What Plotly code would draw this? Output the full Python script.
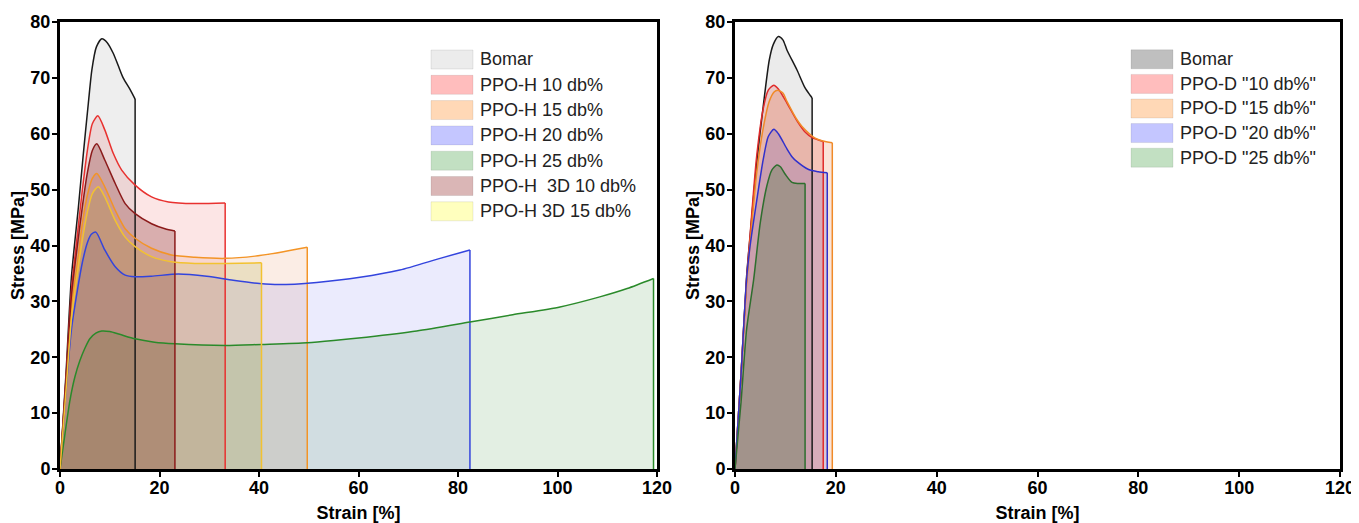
import plotly.graph_objects as go

W, H = 1359, 523
OFF = 8                    # page body margin of the HTML page
FW, FH = W - OFF, H - OFF  # figure size so that the picture fits the window

# ---------------- Left panel: PPO-H (strain [%], stress [MPa]) ----------------
h_bomar_strain = [0, 1.2, 2.3, 3.7, 4.7, 5.7, 6.4, 7.3, 8.4, 9.5, 10.7, 11.7, 12.7, 14.1, 15.1]
h_bomar_stress = [0, 17, 34.4, 46.9, 56.5, 65.5, 71.4, 75.5, 77.0, 76.3, 74.4, 72.2, 70.0, 67.9, 66.2]

h10_strain = [0, 1.2, 2.3, 3.5, 4.5, 5.5, 6.5, 7.6, 9.0, 10.7, 12.4, 15.1, 18.4, 21.8, 27.1, 33.2]
h10_stress = [0, 16, 32, 42, 50, 57, 61.8, 63.2, 60.7, 56.5, 53.5, 50.8, 48.7, 47.8, 47.5, 47.6]

h15_strain = [0, 1.2, 2.3, 3.5, 4.5, 5.5, 6.5, 7.4, 9.0, 11.1, 13.1, 15.1, 18.4, 22.4, 27.1, 33.2, 39.2, 44.9, 49.7]
h15_stress = [0, 15, 29, 37, 44, 49, 52, 52.9, 50.5, 46.3, 43.0, 41.3, 39.5, 38.3, 37.9, 37.7, 38.1, 38.9, 39.7]

h20_strain = [0, 1.2, 2.3, 3.5, 4.5, 5.5, 6.3, 7.2, 9.0, 11.1, 13.1, 15.1, 18.4, 23.8, 29.5, 34.8, 40.1, 44.0, 51.6, 60.3, 68.3, 76.4, 82.4]
h20_stress = [0, 14, 25, 32, 37, 40.5, 42, 42.4, 39.2, 36.2, 34.7, 34.4, 34.5, 34.9, 34.5, 33.8, 33.2, 33.0, 33.4, 34.3, 35.6, 37.7, 39.2]

h25_strain = [0, 1.0, 2.0, 3.0, 4.0, 5.0, 6.0, 7.2, 8.4, 10.0, 12.0, 15.1, 19.0, 23.1, 33.2, 40.5, 49.7, 55.0, 61.6, 71.7, 82.4, 91.0, 100.5, 108.5, 114.0, 119.3]
h25_stress = [0, 6.3, 12.3, 16.5, 19.4, 21.6, 23.3, 24.3, 24.7, 24.6, 24.1, 23.3, 22.7, 22.4, 22.1, 22.3, 22.6, 23.0, 23.6, 24.7, 26.3, 27.6, 29.0, 30.8, 32.3, 34.1]

h3d10_strain = [0, 1.2, 2.3, 3.5, 4.5, 5.5, 6.5, 7.4, 9.0, 11.1, 13.1, 15.1, 18.4, 21.1, 23.1]
h3d10_stress = [0, 16, 31, 40, 47, 53, 57, 58.2, 55.3, 51.1, 47.5, 45.7, 43.9, 43.0, 42.6]

h3d15_strain = [0, 1.2, 2.3, 3.5, 4.5, 5.5, 6.5, 7.7, 9.0, 11.1, 13.1, 15.1, 18.4, 22.4, 27.1, 33.2, 40.5]
h3d15_stress = [0, 14, 27, 35, 41, 46, 49.3, 50.5, 48.7, 44.5, 41.5, 39.8, 38.0, 37.1, 36.8, 36.8, 36.9]

left_names = ["Bomar", "PPO-H 10 db%", "PPO-H 15 db%", "PPO-H 20 db%",
              "PPO-H 25 db%", "PPO-H  3D 10 db%", "PPO-H 3D 15 db%"]

# ---------------- Right panel: PPO-D ----------------
d_bomar_strain = [0, 1.2, 2.3, 3.0, 4.3, 5.6, 6.8, 7.6, 8.6, 9.5, 10.3, 12.3, 13.9, 14.9, 15.3]
d_bomar_stress = [0, 17, 34.5, 41.7, 54.8, 64.9, 73.2, 76.0, 77.4, 76.8, 75.0, 71.4, 68.2, 66.9, 66.4]

d10_strain = [0, 1.2, 2.3, 3.0, 4.3, 5.6, 6.6, 7.7, 8.6, 10.3, 12.3, 13.9, 15.3, 17.5]
d10_stress = [0, 17, 34, 42, 56, 64.5, 67.8, 68.7, 68.0, 65.5, 62.3, 60.3, 59.3, 58.6]

d15_strain = [0, 1.2, 2.3, 3.0, 4.3, 5.6, 6.8, 7.8, 8.4, 9.5, 10.3, 12.3, 13.3, 15.9, 17.4, 19.3]
d15_stress = [0, 17, 33, 40.5, 53, 61, 65.8, 67.5, 67.8, 67.3, 65.8, 62.5, 61.3, 59.2, 58.7, 58.4]

d20_strain = [0, 1.2, 2.3, 3.0, 4.3, 5.6, 6.6, 7.7, 8.6, 10.3, 11.3, 12.3, 14.6, 16.5, 18.3]
d20_stress = [0, 17, 34, 40, 48, 55.4, 59.5, 60.8, 60.0, 57.3, 55.9, 55.0, 53.6, 53.2, 53.0]

d25_strain = [0, 1.2, 2.3, 3.7, 5.0, 6.3, 7.3, 8.3, 9.0, 10.0, 11.3, 12.5, 13.9]
d25_stress = [0, 12, 25, 33.9, 44, 50.6, 53.5, 54.4, 54.1, 52.7, 51.3, 51.1, 51.1]

right_names = ["Bomar", 'PPO-D "10 db%"', 'PPO-D "15 db%"', 'PPO-D "20 db%"', 'PPO-D "25 db%"']

# ---------------- styles ----------------
left_series = [
    (h_bomar_strain, h_bomar_stress, "#1a1a1a", "rgba(90,90,90,0.10)", "#ececec"),
    (h10_strain, h10_stress, "#e8312f", "rgba(230,0,0,0.10)", "#ffbdbd"),
    (h15_strain, h15_stress, "#f39426", "rgba(220,110,40,0.12)", "#ffd8b6"),
    (h20_strain, h20_stress, "#3344dd", "rgba(0,0,230,0.08)", "#c4c6ff"),
    (h25_strain, h25_stress, "#2a8a2a", "rgba(0,110,0,0.11)", "#c2e0c2"),
    (h3d10_strain, h3d10_stress, "#8b1a1a", "rgba(110,0,0,0.24)", "#dab6b6"),
    (h3d15_strain, h3d15_stress, "#f2c230", "rgba(150,150,0,0.15)", "#ffffbe"),
]
right_series = [
    (d_bomar_strain, d_bomar_stress, "#1a1a1a", "rgba(90,90,90,0.12)", "#bfbfbf"),
    (d10_strain, d10_stress, "#e02a2a", "rgba(230,0,0,0.15)", "#ffbdbd"),
    (d15_strain, d15_stress, "#f08a28", "rgba(230,100,40,0.18)", "#ffd8b6"),
    (d20_strain, d20_stress, "#3030cc", "rgba(0,0,200,0.12)", "#c4c6ff"),
    (d25_strain, d25_stress, "#2e6e2e", "rgba(0,100,0,0.20)", "#c2e0c2"),
]

FONT = "Liberation Sans, Arial, sans-serif"
fig = go.Figure()


def add_panel(series, xa, ya):
    # fills first
    for sx, sy, lc, fc, _ in series:
        fig.add_trace(go.Scatter(x=sx, y=sy, xaxis=xa, yaxis=ya, mode="lines",
                                 line=dict(width=0, shape="spline", smoothing=0.7),
                                 fill="tozeroy", fillcolor=fc, showlegend=False,
                                 hoverinfo="skip"))
    # then curves and break-drop lines
    for sx, sy, lc, fc, _ in series:
        fig.add_trace(go.Scatter(x=sx, y=sy, xaxis=xa, yaxis=ya, mode="lines",
                                 line=dict(width=1.5, color=lc, shape="spline", smoothing=0.7),
                                 showlegend=False))
        fig.add_trace(go.Scatter(x=[sx[-1], sx[-1]], y=[sy[-1], 0], xaxis=xa, yaxis=ya,
                                 mode="lines", line=dict(width=1.5, color=lc),
                                 showlegend=False, hoverinfo="skip"))


add_panel(left_series, "x", "y")
add_panel(right_series, "x2", "y2")

# ---------------- manual legends (large swatches) ----------------
shapes, annotations = [], []


def px2x(px):
    return (px - OFF) / FW


def px2y(py):
    return 1 - (py - OFF) / FH


def add_legend(names, series, sw_x0, sw_x1, y_first, dy, text_x):
    for i, (name, s) in enumerate(zip(names, series)):
        yc = y_first + dy * i
        shapes.append(dict(type="rect", xref="paper", yref="paper",
                           x0=px2x(sw_x0), x1=px2x(sw_x1),
                           y0=px2y(yc + 9.5), y1=px2y(yc - 9.5),
                           fillcolor=s[4], line=dict(color="rgba(0,0,0,0.08)", width=1)))
        annotations.append(dict(xref="paper", yref="paper", x=px2x(text_x), y=px2y(yc),
                                xanchor="left", yanchor="middle", showarrow=False,
                                text=name, font=dict(family=FONT, size=18, color="#222222")))


add_legend(left_names, left_series, 431, 473, 59.5, 25.3, 478)
add_legend(right_names, right_series, 1131, 1173, 59.3, 24.6, 1178)

axis_common = dict(range=[0, 120], showline=True, linewidth=3, linecolor="black",
                   mirror=True, ticks="outside", ticklen=5, tickwidth=2, tickcolor="black",
                   showgrid=False, zeroline=False, automargin=False,
                   tickfont=dict(family=FONT, size=18, color="black", weight="bold"))
yaxis_common = dict(axis_common, range=[0, 80], dtick=10, tick0=0, ticklabelstandoff=-2)
xaxis_common = dict(axis_common, dtick=20, tick0=0, ticklabelstandoff=-5)

ydom = [px2y(469), px2y(22)]
xtitle = dict(text="Strain [%]", font=dict(family=FONT, size=18, color="black", weight="bold"), standoff=10)
ytitle = dict(text="Stress [MPa]", font=dict(family=FONT, size=18, color="black", weight="bold"), standoff=2)

fig.update_layout(
    width=FW, height=FH,
    margin=dict(l=0, r=0, t=0, b=0, autoexpand=False),
    paper_bgcolor="white", plot_bgcolor="white",
    xaxis=dict(xaxis_common, domain=[px2x(60), px2x(657)], anchor="y", title=xtitle),
    yaxis=dict(yaxis_common, domain=ydom, anchor="x", title=ytitle),
    xaxis2=dict(xaxis_common, domain=[px2x(735), px2x(1340)], anchor="y2", title=xtitle),
    yaxis2=dict(yaxis_common, domain=ydom, anchor="x2", title=ytitle),
    shapes=shapes, annotations=annotations,
    showlegend=False,
)

fig.write_html("out.html")
